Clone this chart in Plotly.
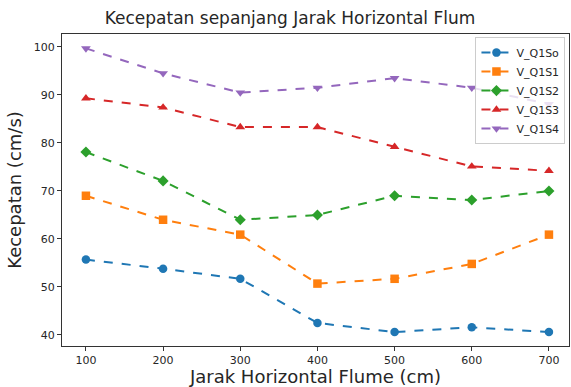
import plotly.graph_objects as go

# Horizontal distance along the flume (cm)
jarak = [100, 200, 300, 400, 500, 600, 700]

# Velocity series (cm/s)
v_q1so = [55.7, 53.8, 51.7, 42.5, 40.6, 41.6, 40.6]
v_q1s1 = [69.0, 64.0, 60.9, 50.7, 51.7, 54.8, 60.9]
v_q1s2 = [78.1, 72.1, 64.0, 65.0, 69.0, 68.1, 70.0]
v_q1s3 = [89.3, 87.4, 83.3, 83.3, 79.2, 75.1, 74.2]
v_q1s4 = [99.7, 94.5, 90.5, 91.5, 93.5, 91.5, 88.1]

series = [
    ("V_Q1So", v_q1so, "#1f77b4", "circle"),
    ("V_Q1S1", v_q1s1, "#ff7f0e", "square"),
    ("V_Q1S2", v_q1s2, "#2ca02c", "diamond"),
    ("V_Q1S3", v_q1s3, "#d62728", "triangle-up"),
    ("V_Q1S4", v_q1s4, "#9467bd", "triangle-down"),
]

fig = go.Figure()
for name, vals, color, sym in series:
    fig.add_trace(go.Scatter(
        x=jarak, y=vals, name=name, mode="lines+markers",
        line=dict(color=color, width=2, dash="dash"),
        marker=dict(color=color, symbol=sym, size=8.5),
    ))

axis_common = dict(
    showline=True, linecolor="#333333", linewidth=1, mirror=True,
    ticks="outside", ticklen=4, tickcolor="#333333",
    showgrid=False, zeroline=False,
    tickfont=dict(family="DejaVu Sans", size=11, color="#262626"),
)

fig.update_layout(
    width=571, height=387,
    margin=dict(l=62, r=2, t=34, b=41),
    paper_bgcolor="white", plot_bgcolor="white",
    title=dict(text="Kecepatan sepanjang Jarak Horizontal Flum",
               x=0.508, xanchor="center", y=0.953, yanchor="middle",
               font=dict(family="DejaVu Sans", size=17, color="#262626")),
    xaxis=dict(axis_common, range=[69, 726], tickvals=jarak,
               title=dict(text="Jarak Horizontal Flume (cm)", standoff=3,
                          font=dict(family="DejaVu Sans", size=18, color="#262626"))),
    yaxis=dict(axis_common, range=[37.7, 102.7], tickvals=[40, 50, 60, 70, 80, 90, 100],
               title=dict(text="Kecepatan (cm/s)", standoff=7,
                          font=dict(family="DejaVu Sans", size=18, color="#262626"))),
    legend=dict(x=0.993, y=0.99, xanchor="right", yanchor="top",
                bgcolor="rgba(255,255,255,0.8)", bordercolor="#cccccc", borderwidth=1,
                font=dict(family="DejaVu Sans", size=11, color="#262626"),
                tracegroupgap=0, itemwidth=30),
)

fig.write_html("out.html")
